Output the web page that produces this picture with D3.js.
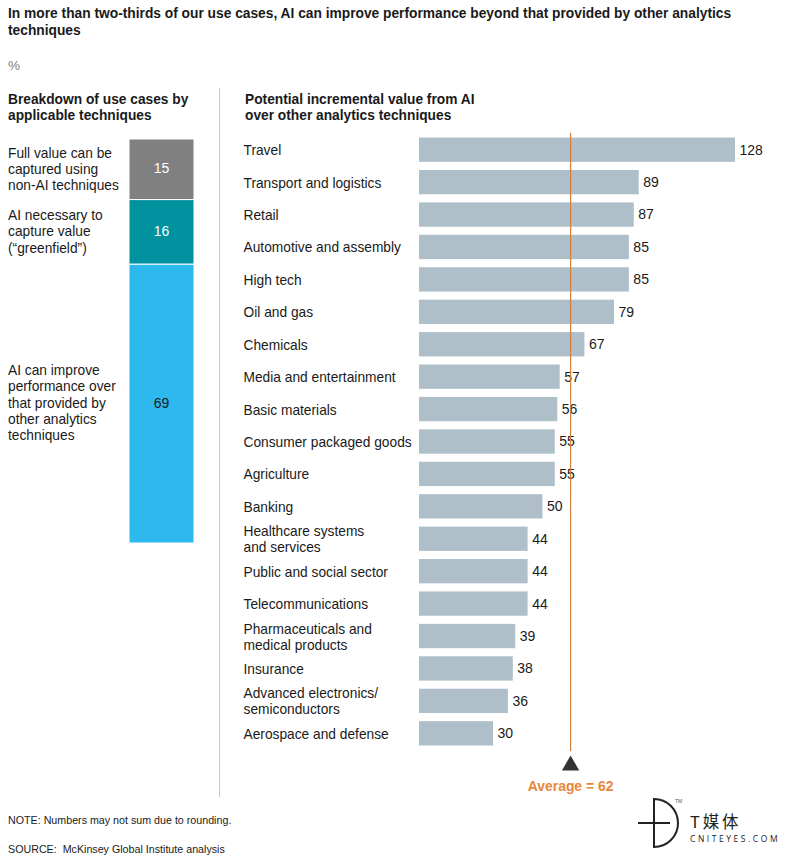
<!DOCTYPE html>
<html><head><meta charset="utf-8">
<script src="https://cdn.jsdelivr.net/npm/d3@7"></script>
<style>
html,body{margin:0;padding:0;background:#fff}
svg{display:block}
text{font-family:"Liberation Sans",Arial,sans-serif;fill:#1a1a1a}
</style></head><body><div id="c"></div>
<script>
const titleLines=["In more than two-thirds of our use cases, AI can improve performance beyond that provided by other analytics","techniques"];
const leftHeading=["Breakdown of use cases by","applicable techniques"];
const rightHeading=["Potential incremental value from AI","over other analytics techniques"];
const stackLabels=[["Full value can be","captured using","non-AI techniques"],["AI necessary to","capture value","(“greenfield”)"],["AI can improve","performance over","that provided by","other analytics","techniques"]];
const stackValues=[15,16,69];
const stackColors=["#808080","#00929f","#2db8ee"];
const stackTextColors=["#fff","#fff","#1a1a1a"];
const sectors=[["Travel"],["Transport and logistics"],["Retail"],["Automotive and assembly"],["High tech"],["Oil and gas"],["Chemicals"],["Media and entertainment"],["Basic materials"],["Consumer packaged goods"],["Agriculture"],["Banking"],["Healthcare systems","and services"],["Public and social sector"],["Telecommunications"],["Pharmaceuticals and","medical products"],["Insurance"],["Advanced electronics/","semiconductors"],["Aerospace and defense"]];
const values=[128,89,87,85,85,79,67,57,56,55,55,50,44,44,44,39,38,36,30];
const averageValue=62;
const averageLinePosition=61.4;

const svg=d3.select("#c").append("svg").attr("width",788).attr("height",857);
const lineH=16.2;
const bodySize=13.75;
function multi(lines,x,y,o={}){
  const t=svg.append("text").attr("font-size",o.size||bodySize).attr("font-weight",o.weight||null);
  if(o.fill)t.style("fill",o.fill);
  lines.forEach((l,i)=>t.append("tspan").attr("x",x).attr("y",y+i*(o.lh||lineH)).text(l));
  return t;
}
multi(titleLines,8,18,{size:13.78,weight:"bold",lh:16.5});
svg.append("text").attr("x",8).attr("y",70).attr("font-size",13.5).style("fill","#808080").text("%");
multi(leftHeading,8,104,{size:13.75,weight:"bold",lh:16});
multi(rightHeading,245,104,{size:13.75,weight:"bold",lh:16});

svg.append("line").attr("x1",219.5).attr("x2",219.5).attr("y1",88).attr("y2",797).attr("stroke","#c8c8c8").attr("stroke-width",1);

// stacked column
const stackY=d3.scaleLinear().domain([0,100]).range([139,543]);
let cum=0;
const stack=stackValues.map(v=>{const s={y0:cum,y1:cum+v,v};cum+=v;return s;});
svg.append("g").selectAll("rect").data(stack).join("rect")
  .attr("x",129).attr("width",65)
  .attr("y",d=>stackY(d.y0)).attr("height",d=>stackY(d.y1)-stackY(d.y0))
  .attr("fill",(d,i)=>stackColors[i]).attr("stroke","#fff").attr("stroke-width",1);
svg.append("g").selectAll("text").data(stack).join("text")
  .attr("x",161.5).attr("y",d=>stackY((d.y0+d.y1)/2)-1).attr("dy","0.35em").attr("text-anchor","middle")
  .attr("font-size",14).style("fill",(d,i)=>stackTextColors[i]).text(d=>d.v);
const stackLabelTop=[157.5,220,375];
stackLabels.forEach((l,i)=>multi(l,8,stackLabelTop[i],{lh:16.3}));

// bars
const x=d3.scaleLinear().domain([0,128]).range([419,735]);
const y=d3.scaleBand().domain(d3.range(values.length)).range([133.5,749.5]).paddingInner(0.25).paddingOuter(0.125);
svg.append("g").selectAll("rect").data(values).join("rect")
  .attr("x",x(0)).attr("y",(d,i)=>y(i)).attr("height",y.bandwidth())
  .attr("width",d=>x(d)-x(0)).attr("fill","#aebfca");
svg.append("g").selectAll("text").data(values).join("text")
  .attr("x",d=>x(d)+4.5).attr("y",(d,i)=>y(i)+y.bandwidth()/2).attr("dy","0.35em")
  .attr("font-size",14).text(d=>d);
sectors.forEach((l,i)=>{
  const c=y(i)+y.bandwidth()/2+5.5;
  multi(l,243.5,l.length>1?c-8:c,{lh:16});
});

// average marker
const ax=x(averageLinePosition);
svg.append("line").attr("x1",ax).attr("x2",ax).attr("y1",133).attr("y2",751).attr("stroke","#d0803f").attr("stroke-width",1.2);
svg.append("path").attr("d",d3.symbol(d3.symbolTriangle,130)()).attr("transform",`translate(${ax},765.5)`).attr("fill","#333");
svg.append("text").attr("x",ax).attr("y",791).attr("text-anchor","middle").attr("font-size",13.9).attr("font-weight","bold")
  .style("fill","#e8873a").text(`Average = ${averageValue}`);

// notes
svg.append("text").attr("x",8).attr("y",824).attr("font-size",10.7).text("NOTE: Numbers may not sum due to rounding.");
svg.append("text").attr("x",8).attr("y",853).attr("font-size",10.7).text("SOURCE:\u00a0 McKinsey Global Institute analysis");

// watermark logo
const logo=svg.append("g").attr("fill","none").attr("stroke","#222").attr("stroke-width",2);
logo.append("path").attr("d","M654,799 V847 A24,24 0 0 0 654,799 Z");
logo.append("path").attr("d","M638,823 H670");
svg.append("text").attr("x",675).attr("y",803).attr("font-size",5).style("fill","#555").text("TM");
svg.append("text").attr("x",690).attr("y",828).attr("font-size",16.5).attr("letter-spacing",2.8).style("font-family",'"Noto Sans CJK SC"').style("fill","#222").text("T媒体");
svg.append("text").attr("x",690).attr("y",842).attr("font-size",8.5).attr("letter-spacing",2.55).style("font-family",'"Open Sans"').style("fill","#222").text("CNITEYES.COM");
</script></body></html>
